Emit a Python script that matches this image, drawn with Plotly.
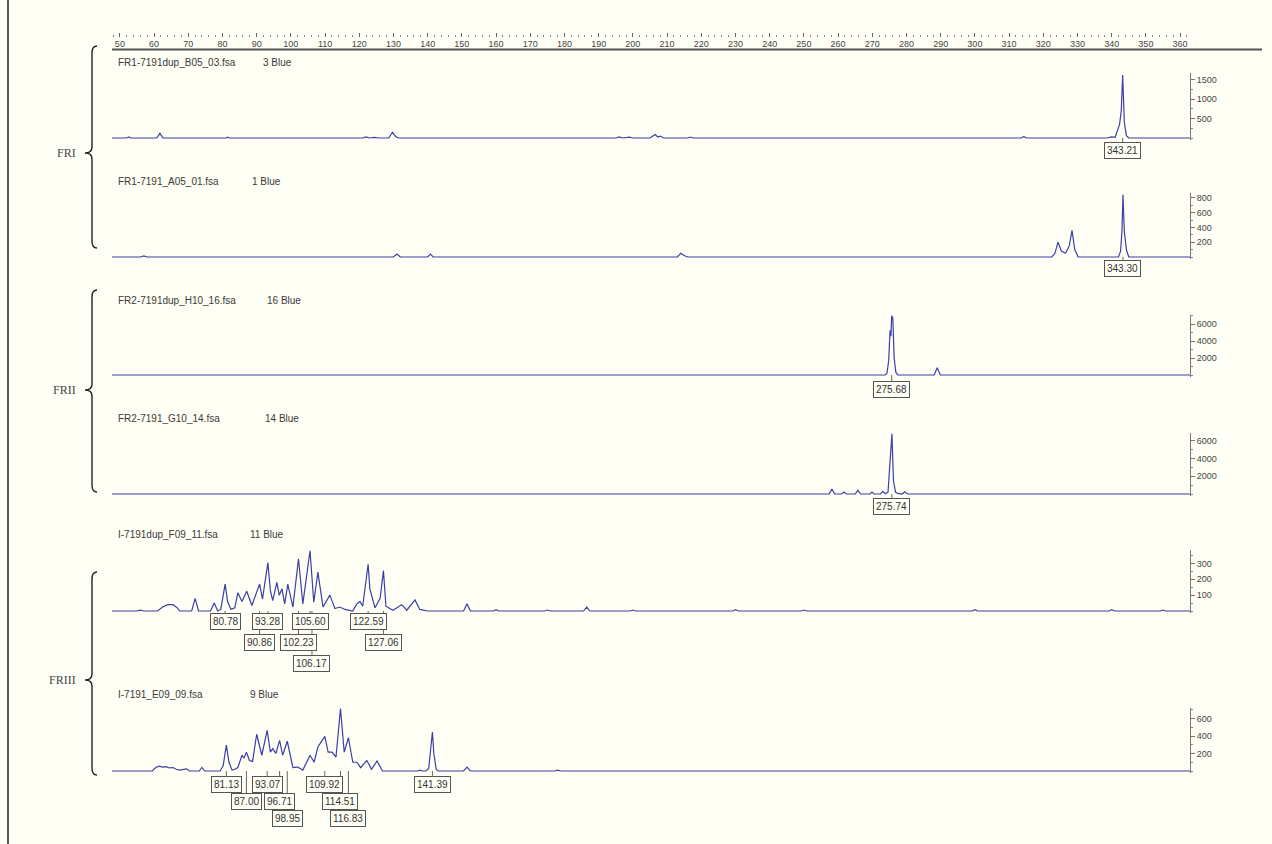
import plotly.graph_objects as go

# ---------------------------------------------------------------- data
# Fragment size (bp) and signal (RFU) for each capillary trace
p1_bp = [47.7, 52.0, 52.6, 53.2, 60.8, 61.7, 62.6, 81.0, 81.5, 82.0, 121.0, 122.0, 123.0, 124.5, 125.5,
         128.6, 129.7, 130.6, 131.5, 195.0, 196.0, 197.0, 199.0, 200.0, 205.0, 206.5, 207.3, 208.0, 209.0,
         216.0, 216.8, 217.5, 313.6, 314.3, 315.0, 338.5, 340.0, 341.0, 342.3, 342.8, 343.21, 343.7,
         344.3, 345.0, 362.9]
p1_rfu = [0, 0, 25, 0, 0, 120, 0, 0, 20, 0, 0, 30, 0, 15, 0,
          0, 150, 40, 0, 0, 30, 0, 20, 0, 0, 90, 25, 50, 0,
          0, 25, 0, 0, 40, 0, 0, 30, 20, 350, 700, 1630, 400,
          60, 0, 0]

p2_bp = [47.7, 56.0, 57.0, 58.0, 130.0, 131.0, 132.0, 140.0, 140.8, 141.6, 213.0, 214.0, 215.0, 216.0,
         322.5, 323.4, 324.3, 325.3, 326.5, 327.6, 328.4, 329.2, 330.2, 342.0, 342.6, 343.0, 343.30,
         343.7, 344.3, 345.0, 362.9]
p2_rfu = [0, 0, 15, 0, 0, 40, 0, 0, 40, 0, 0, 50, 20, 0,
          0, 50, 200, 80, 50, 150, 360, 100, 0, 0, 80, 340, 840,
          340, 100, 0, 0]

p3_bp = [47.7, 157.0, 157.8, 158.6, 272.0, 273.0, 273.8, 274.3, 274.8, 275.2, 275.45, 275.68, 276.0,
         276.4, 276.9, 277.5, 288.1, 289.0, 289.9, 362.9]
p3_rfu = [0, 0, 30, 0, 0, 40, 0, 200, 1700, 5300, 4600, 7000, 6700,
          2000, 300, 0, 0, 850, 0, 0]

p4_bp = [47.7, 79.5, 80.3, 81.0, 257.4, 258.2, 259.0, 261.0, 261.7, 262.4, 265.0, 265.8, 266.6, 269.2,
         269.9, 270.6, 272.4, 273.1, 273.8, 274.6, 275.2, 275.74, 276.2, 276.8, 277.4, 278.7, 279.5,
         280.3, 362.9]
p4_rfu = [0, 0, 25, 0, 0, 550, 0, 0, 220, 0, 0, 420, 0, 0,
          200, 0, 0, 300, 40, 200, 3300, 6800, 1500, 200, 60, 0, 250,
          0, 0]

p5_bp = [47.7, 55.0, 56.0, 57.0, 61.0, 62.5, 64.0, 65.5, 66.8, 67.5, 71.0, 72.0, 73.0, 76.5, 77.6, 78.6,
         79.5, 80.2, 80.78, 81.5, 82.5, 83.6, 84.5, 85.7, 87.1, 88.6, 90.86, 91.7, 93.28, 94.0, 94.7,
         95.9, 96.6, 97.4, 98.2, 99.1, 100.6, 102.23, 103.5, 105.6, 106.17, 106.7, 107.9, 109.4, 111.4,
         112.9, 114.3, 115.8, 118.1, 119.3, 120.2, 121.0, 122.59, 123.1, 124.6, 126.1, 127.06, 127.8,
         129.8, 132.4, 133.9, 136.3, 137.7, 140.0, 150.5, 151.5, 152.5, 159.2, 160.0, 160.8, 174.2,
         175.0, 175.8, 185.6, 186.5, 187.4, 199.2, 200.0, 200.8, 229.2, 230.0, 230.8, 249.2, 250.0,
         250.8, 299.2, 300.0, 300.8, 339.2, 340.0, 340.8, 354.2, 355.0, 355.8, 362.9]
p5_rfu = [0, 0, 5, 0, 0, 25, 40, 40, 20, 0, 0, 80, 0, 0, 50, 0,
          10, 90, 170, 60, 10, 20, 115, 60, 125, 35, 170, 75, 305, 130, 65,
          180, 100, 140, 45, 170, 25, 330, 45, 380, 200, 55, 245, 25, 100,
          15, 25, 10, 0, 45, 60, 30, 295, 140, 20, 80, 255, 30,
          5, 40, 5, 70, 10, 0, 0, 45, 0, 0, 8, 0, 0,
          6, 0, 0, 25, 0, 0, 6, 0, 0, 8, 0, 0, 6,
          0, 0, 8, 0, 0, 8, 0, 0, 6, 0, 0]

p6_bp = [47.7, 55.0, 56.0, 57.0, 59.5, 60.5, 61.5, 62.5, 63.5, 64.5, 65.5, 66.5, 67.5, 69.5, 70.3,
         73.2, 74.0, 74.8, 79.3, 80.2, 81.13, 81.9, 82.8, 83.6, 84.5, 85.7, 86.3, 87.0, 87.9, 88.8,
         90.0, 91.5, 93.07, 94.0, 94.7, 95.6, 96.71, 97.6, 98.95, 100.6, 102.0, 103.5, 105.6, 106.8,
         107.9, 109.92, 110.9, 112.0, 113.2, 114.51, 115.6, 116.83, 118.1, 119.3, 120.4, 122.2, 123.6,
         125.2, 126.8, 137.0, 137.7, 138.4, 139.5, 140.3, 140.9, 141.39, 141.8, 142.5, 143.0, 150.5,
         151.5, 152.5, 177.2, 178.0, 178.8, 215.9, 216.7, 217.5, 259.2, 260.0, 260.8, 362.9]
p6_rfu = [0, 0, 8, 0, 0, 40, 55, 45, 50, 35, 40, 20, 10, 25, 0,
          0, 40, 0, 0, 60, 295, 100, 10, 20, 40, 180, 150, 215, 120, 110,
          420, 180, 465, 215, 255, 200, 350, 180, 340, 38, 45, 10, 180, 100,
          275, 395, 215, 215, 160, 715, 215, 380, 100, 100, 38, 120, 20,
          115, 0, 0, 10, 0, 0, 30, 250, 445, 200, 20, 0, 0,
          45, 0, 0, 10, 0, 0, 8, 0, 0, 5, 0, 0]

trace_bp = [p1_bp, p2_bp, p3_bp, p4_bp, p5_bp, p6_bp]
trace_rfu = [p1_rfu, p2_rfu, p3_rfu, p4_rfu, p5_rfu, p6_rfu]

sample_files = ["FR1-7191dup_B05_03.fsa", "FR1-7191_A05_01.fsa", "FR2-7191dup_H10_16.fsa",
                "FR2-7191_G10_14.fsa", "I-7191dup_F09_11.fsa", "I-7191_E09_09.fsa"]
dye_labels = ["3 Blue", "1 Blue", "16 Blue", "14 Blue", "11 Blue", "9 Blue"]

# Called peak sizes (bp) for each trace
peak_calls = [[343.21], [343.30], [275.68], [275.74],
              [80.78, 93.28, 105.60, 122.59, 90.86, 102.23, 127.06, 106.17],
              [81.13, 93.07, 109.92, 141.39, 87.00, 96.71, 114.51, 98.95, 116.83]]

y_tickvals = [[500, 1000, 1500], [200, 400, 600, 800], [2000, 4000, 6000], [2000, 4000, 6000],
              [100, 200, 300], [200, 400, 600]]
y_top = [1680, 865, 7100, 6900, 385, 720]

region_names = ["FRI", "FRII", "FRIII"]
size_ticks = list(range(50, 361, 10))

# ---------------------------------------------------------------- layout helpers
W, H = 1272, 844
BG = "#fffff5"
LINE_BLUE = "#3a40a8"
TXT = "#3a3a3a"
SANS = "Liberation Sans, Arial"


def px(x):
    return x / W


def py(y):
    return 1 - y / H


X_LEFT, X_RIGHT = 112, 1190
X_RANGE = [47.7, 362.9]

# pixel rows: top of y-axis and baseline for each panel
panel_top = [73, 193, 315, 433, 550, 708]
panel_base = [138, 257, 375, 494, 611, 771]
title_y = [62, 182, 300, 418, 534, 694]
dye_x = [261, 250, 265, 263, 248, 248]
# label rows below the baseline, per panel
label_rows = [[150], [268], [389], [507], [621, 642, 663], [784, 801, 818]]
label_row_index = [[0], [0], [0], [0], [0, 0, 0, 0, 1, 1, 1, 2], [0, 0, 0, 0, 1, 1, 1, 2, 2]]

fig = go.Figure()
layout_axes = {}
annotations = []
shapes = []

for i in range(6):
    yname = "y" if i == 0 else f"y{i + 1}"
    akey = "yaxis" if i == 0 else f"yaxis{i + 1}"
    top, base = panel_top[i], panel_base[i]
    pad = 2
    per_px = y_top[i] / (base - top)
    fig.add_trace(go.Scatter(x=trace_bp[i], y=trace_rfu[i], mode="lines", xaxis="x", yaxis=yname,
                             line=dict(color=LINE_BLUE, width=1.2),
                             hoverinfo="x+y", showlegend=False))
    step = y_tickvals[i][1] - y_tickvals[i][0]
    layout_axes[akey] = dict(
        domain=[py(base + pad), py(top)], range=[-pad * per_px, y_top[i]],
        anchor="free", position=px(X_RIGHT), side="right",
        showline=True, linecolor="#777", linewidth=1, showgrid=False, zeroline=False,
        tickvals=y_tickvals[i], ticks="outside", ticklen=4, tickcolor="#777",
        tickfont=dict(family=SANS, size=9, color="#444"),
        minor=dict(dtick=step / 2, ticks="outside", ticklen=2, tickcolor="#888"),
        fixedrange=True,
    )
    # sample file name and dye
    annotations.append(dict(x=px(116), y=py(title_y[i]), xref="paper", yref="paper", xanchor="left",
                            yanchor="middle", showarrow=False, text=sample_files[i],
                            font=dict(family=SANS, size=10, color=TXT)))
    annotations.append(dict(x=px(dye_x[i]), y=py(title_y[i]), xref="paper", yref="paper", xanchor="left",
                            yanchor="middle", showarrow=False, text=dye_labels[i],
                            font=dict(family=SANS, size=10, color=TXT)))
    # peak size boxes with leader ticks
    for val, row in zip(peak_calls[i], label_row_index[i]):
        cy = label_rows[i][row]
        annotations.append(dict(x=val, y=py(cy), xref="x", yref="paper", xanchor="center",
                                yanchor="middle", showarrow=False, text=f"{val:.2f}",
                                font=dict(family=SANS, size=10, color="#333"),
                                bordercolor="#555", borderwidth=1, borderpad=2, bgcolor=BG))
        shapes.append(dict(type="line", xref="x", yref="paper", x0=val, x1=val,
                           y0=py(base), y1=py(cy - 8), line=dict(color="#666", width=1)))

# top size ruler
layout_axes["xaxis"] = dict(
    domain=[px(X_LEFT), px(X_RIGHT)], range=X_RANGE, side="top", anchor="free", position=py(37),
    tickvals=size_ticks, ticks="outside", ticklen=4, tickcolor="#666", showline=False,
    ticklabelposition="inside",
    tickfont=dict(family=SANS, size=9, color="#444"),
    minor=dict(dtick=2, tick0=50, ticks="outside", ticklen=2, tickcolor="#888"),
    showgrid=False, zeroline=False, fixedrange=True,
)
shapes.append(dict(type="line", xref="paper", yref="paper", x0=px(112), x1=px(1262), y0=py(49.5),
                   y1=py(49.5), line=dict(color="#555", width=2)))

# region braces on the left
brace_specs = [(46, 153, 248), (290, 390, 492), (572, 680, 775)]
bx = 92
for name, (t, m, b) in zip(region_names, brace_specs):
    pts = [
        ("M", (bx + 5, t)),
        ("Q", (bx, t), (bx, t + 7)),
        ("L", (bx, m - 6)),
        ("Q", (bx, m), (bx - 7, m)),
        ("Q", (bx, m), (bx, m + 6)),
        ("L", (bx, b - 7)),
        ("Q", (bx, b), (bx + 5, b)),
    ]
    path = ""
    for seg in pts:
        cmd = seg[0]
        coords = " ".join(f"{px(p[0]):.5f},{py(p[1]):.5f}" for p in seg[1:])
        path += f"{cmd} {coords} "
    shapes.append(dict(type="path", xref="paper", yref="paper", path=path.strip(),
                       line=dict(color="#222", width=1.4)))
    annotations.append(dict(x=px(78), y=py(m), xref="paper", yref="paper", xanchor="right",
                            yanchor="middle", showarrow=False, text=name,
                            font=dict(family="Liberation Serif, Times New Roman", size=12, color="#444")))

# window frame
shapes.append(dict(type="line", xref="paper", yref="paper", x0=px(8), x1=px(8), y0=0, y1=1,
                   line=dict(color="#222", width=1.5)))

fig.update_layout(
    width=W, height=H, autosize=False,
    margin=dict(l=0, r=0, t=0, b=0),
    paper_bgcolor=BG, plot_bgcolor=BG,
    showlegend=False,
    annotations=annotations, shapes=shapes,
    **layout_axes,
)

fig.write_html("out.html", config={"displayModeBar": False})
